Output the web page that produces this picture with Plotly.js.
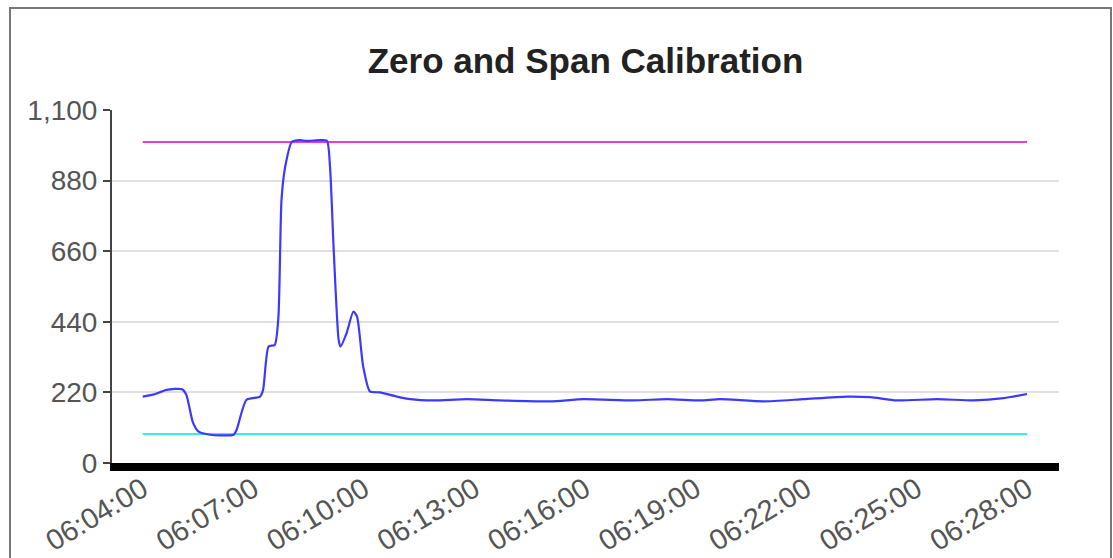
<!DOCTYPE html>
<html>
<head>
<meta charset="utf-8">
<script src="https://cdn.plot.ly/plotly-3.0.1.min.js"></script>
<style>
  html, body { margin: 0; padding: 0; overflow: hidden; background: #fff; }
  #chart { width: 1113px; height: 558px; }
</style>
</head>
<body>
<div id="chart"></div>
<script>
// ---- data ----
const DAY = '2024-01-01 ';
const times = [
  '06:04:00','06:04:17','06:04:39','06:05:04','06:05:11','06:05:22','06:05:31','06:05:50',
  '06:06:06','06:06:28','06:06:33','06:06:49','06:07:11','06:07:16','06:07:25','06:07:35',
  '06:07:41','06:07:46','06:07:52','06:08:03','06:08:16','06:08:27','06:08:49','06:09:00',
  '06:09:05','06:09:11','06:09:19','06:09:22','06:09:32','06:09:43','06:09:49','06:09:59',
  '06:10:10','06:10:26','06:10:54','06:11:16','06:11:53','06:12:48','06:13:42','06:15:04',
  '06:15:58','06:17:19','06:18:14','06:19:08','06:19:40','06:20:51','06:21:56','06:23:07',
  '06:23:45','06:24:28','06:25:34','06:26:33','06:27:22','06:28:00'
];
const values = [
  207, 213, 228, 230, 213, 125, 98, 88,
  86, 88, 104, 197, 207, 228, 363, 368,
  456, 820, 923, 1001, 1006, 1004, 1006, 1004,
  923, 664, 384, 363, 405, 472, 456, 301,
  223, 220, 207, 199, 195, 199, 195, 192,
  199, 195, 199, 195, 199, 192, 199, 207,
  205, 195, 199, 195, 202, 215
];
const refTimes = ['06:04:00', '06:28:00'];
const spanLevel = [1000, 1000];
const zeroLevel = [90, 90];
const yTickVals = [0, 220, 440, 660, 880, 1100];
const yTickText = ['0', '220', '440', '660', '880', '1,100'];
const titleText = 'Zero and Span Calibration';

const ts = a => a.map(t => DAY + t);

const traces = [
  { x: ts(refTimes), y: spanLevel, mode: 'lines', line: { color: '#e83ec8', width: 2 }, hoverinfo: 'skip' },
  { x: ts(refTimes), y: zeroLevel, mode: 'lines', line: { color: '#3ee8f0', width: 2 }, hoverinfo: 'skip' },
  { x: ts(times), y: values, mode: 'lines', line: { color: '#3a3aff', width: 2.2, shape: 'spline', smoothing: 0.6 } }
];

const layout = {
  width: 1113, height: 558,
  paper_bgcolor: '#ffffff', plot_bgcolor: '#ffffff',
  showlegend: false,
  margin: { l: 112, r: 54, t: 110, b: 95, pad: 0 },
  font: { family: '"Liberation Sans", Arial, sans-serif', color: '#555' },
  title: {
    text: '<b>' + titleText + '</b>',
    font: { family: '"Liberation Sans", Arial, sans-serif', size: 35, color: '#222' },
    x: 0.5, xref: 'paper', y: 1 - 61 / 558, yref: 'container', yanchor: 'middle'
  },
  xaxis: {
    type: 'date',
    range: [DAY + '06:03:10', DAY + '06:28:52'],
    tick0: DAY + '06:04:00', dtick: 180000,
    tickformat: '%H:%M:%S',
    tickangle: -31,
    ticklabelstandoff: -10,
    tickfont: { size: 29, color: '#555' },
    showgrid: false, zeroline: false,
    showline: true, linecolor: '#000', linewidth: 8,
    ticks: '', fixedrange: true
  },
  yaxis: {
    range: [0, 1100],
    tickvals: yTickVals, ticktext: yTickText,
    tickfont: { size: 28, color: '#555' },
    showgrid: true, gridcolor: '#e0e0e0', gridwidth: 2,
    zeroline: false,
    showline: true, linecolor: '#444', linewidth: 2,
    ticks: 'outside', ticklen: 7, tickwidth: 2, tickcolor: '#444',
    fixedrange: true
  },
  shapes: [
    { type: 'rect', xref: 'paper', yref: 'paper',
      x0: -102 / 947, x1: 999 / 947, y0: -110 / 353, y1: 455 / 353,
      line: { color: '#777', width: 2 }, fillcolor: 'rgba(0,0,0,0)', layer: 'below' }
  ]
};

Plotly.newPlot('chart', traces, layout, { displayModeBar: false, staticPlot: true });
</script>
</body>
</html>
